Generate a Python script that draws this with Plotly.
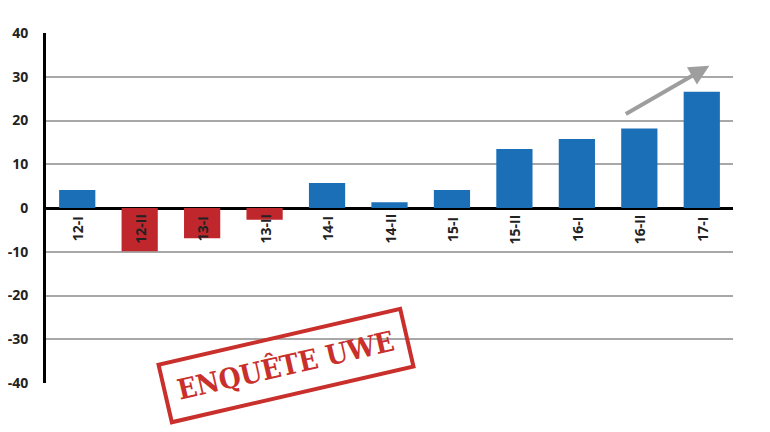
import plotly.graph_objects as go

categories = ["12-I", "12-II", "13-I", "13-II", "14-I", "14-II", "15-I", "15-II", "16-I", "16-II", "17-I"]
values = [4.1, -9.9, -6.9, -2.7, 5.7, 1.3, 4.1, 13.5, 15.8, 18.2, 26.6]
y_ticks = [-40, -30, -20, -10, 0, 10, 20, 30, 40]

BLUE = "#1a6fb7"
RED = "#c0272d"
colors = [RED if v < 0 else BLUE for v in values]

fig = go.Figure()
fig.add_trace(go.Bar(x=categories, y=values, marker=dict(color=colors, line=dict(width=0)),
                     hoverinfo="skip"))

annotations = []
for c in categories:
    annotations.append(dict(x=c, y=0, xref="x", yref="y", text=c, textangle=-90,
                            showarrow=False, xanchor="center", yanchor="middle", yshift=-21,
                            font=dict(family="Open Sans", size=14, color="#222222", weight="bold")))

# stamp
annotations.append(dict(x=0.35, y=0.05, xref="paper", yref="paper", text="ENQUÊTE UWE",
                        textangle=-13, showarrow=False, xanchor="center", yanchor="middle",
                        font=dict(family="DejaVu Serif Condensed", size=28, color="#c9302c", weight="bold"),
                        bordercolor="#c9302c", borderwidth=4, borderpad=11))
# arrow
annotations.append(dict(x=10.12, y=32.5, xref="x", yref="y", ax=8.76, ay=21.3, axref="x", ayref="y",
                        showarrow=True, arrowhead=2, arrowsize=1, arrowwidth=4, arrowcolor="#9e9e9e",
                        text=""))

fig.update_layout(
    width=770, height=432,
    margin=dict(l=38, r=45, t=25, b=57),
    paper_bgcolor="white", plot_bgcolor="white",
    showlegend=False,
    bargap=0.42,
    annotations=annotations,
    xaxis=dict(type="category", range=[-0.5, 10.5], showticklabels=False, showgrid=False,
               zeroline=False, showline=False, fixedrange=True, automargin=False),
    yaxis=dict(range=[-40, 40], tickvals=y_ticks, ticktext=[str(t) for t in y_ticks],
               showgrid=True, gridcolor="#a8a8a8", gridwidth=2,
               zeroline=True, zerolinecolor="black", zerolinewidth=3,
               showline=True, linecolor="black", linewidth=3,
               ticks="", ticklabelstandoff=12, automargin=False,
               tickfont=dict(family="Open Sans", size=14, color="#222222", weight="bold")),
)

fig.write_html("out.html")
